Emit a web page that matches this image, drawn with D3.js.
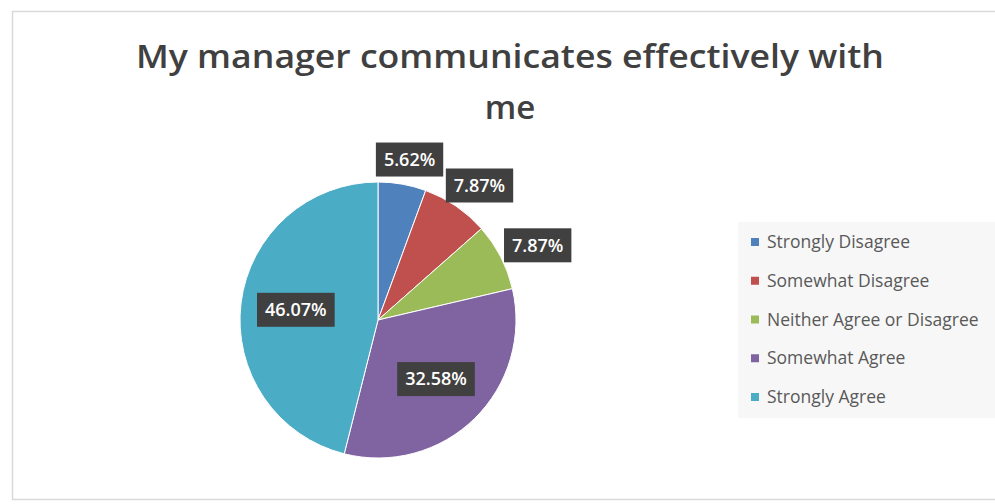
<!DOCTYPE html>
<html>
<head>
<meta charset="utf-8">
<script src="https://cdn.jsdelivr.net/npm/d3@7"></script>
<style>
  body { margin: 0; background: #fff; }
  svg { display: block; font-family: "Open Sans", "DejaVu Sans", sans-serif; }
</style>
</head>
<body>
<script>
// data
const categories = ["Strongly Disagree", "Somewhat Disagree", "Neither Agree or Disagree", "Somewhat Agree", "Strongly Agree"];
const values = [5.62, 7.87, 7.87, 32.58, 46.07];
const colors = ["#4f81bd", "#c0504d", "#9bbb59", "#8064a2", "#4bacc6"];
const titleLines = ["My manager communicates effectively with", "me"];

const W = 995, H = 504;
const svg = d3.select("body").append("svg")
    .attr("width", W)
    .attr("height", H);

// chart frame
svg.append("rect")
    .attr("x", 12.5).attr("y", 11.5)
    .attr("width", W + 10).attr("height", 488)
    .attr("fill", "#fff")
    .attr("stroke", "#d9d9d9")
    .attr("stroke-width", 1.5);

// title
const title = svg.append("g").selectAll("text")
    .data(titleLines)
    .join("text")
    .attr("x", 510)
    .attr("y", (d, i) => 68 + i * 51)
    .attr("text-anchor", "middle")
    .attr("fill", "#404040")
    .attr("font-size", 33)
    .attr("font-weight", 600)
    .text(d => d);
// first line stretched to the width seen in the picture
title.filter((d, i) => i === 0)
    .attr("textLength", 748)
    .attr("lengthAdjust", "spacingAndGlyphs");

// pie
const cx = 378, cy = 320, r = 138;
const pie = d3.pie().sort(null).value(d => d);
const arcs = pie(values);
const arc = d3.arc().innerRadius(0).outerRadius(r);

const g = svg.append("g").attr("transform", `translate(${cx},${cy})`);

g.selectAll("path")
    .data(arcs)
    .join("path")
    .attr("d", arc)
    .attr("fill", (d, i) => colors[i])
    .attr("stroke", "#fff")
    .attr("stroke-width", 1);

// data labels: big slices inside, small ones outside
const labels = g.append("g").selectAll("g")
    .data(arcs)
    .join("g");

labels.each(function(d) {
    const lg = d3.select(this);
    const a = (d.startAngle + d.endAngle) / 2;
    const inside = d.value > 20;
    const txt = lg.append("text")
        .attr("text-anchor", "middle")
        .attr("dy", "0.35em")
        .attr("fill", "#fff")
        .attr("font-size", 18)
        .attr("font-weight", 600)
        .text(d3.format(".2f")(d.value) + "%");
    const tw = txt.node().getComputedTextLength();
    const bw = tw + 16, bh = 34;
    let x, y;
    if (inside) {
        x = Math.sin(a) * r * 0.6;
        y = -Math.cos(a) * r * 0.6;
    } else {
        const rr = r + 8;
        x = Math.sin(a) * rr + Math.sin(a) * bw / 2;
        y = -Math.cos(a) * rr - Math.cos(a) * bh / 2;
    }
    lg.insert("rect", "text")
        .attr("x", x - bw / 2).attr("y", y - bh / 2)
        .attr("width", bw).attr("height", bh)
        .attr("fill", "#404040");
    txt.attr("x", x).attr("y", y);
});

// legend
const legend = svg.append("g");
legend.append("rect")
    .attr("x", 738).attr("y", 222)
    .attr("width", W - 738).attr("height", 196)
    .attr("fill", "#f7f7f7");

const ly = d3.scalePoint().domain(categories).range([242, 397]);

const items = legend.selectAll("g.item")
    .data(categories)
    .join("g")
    .attr("class", "item")
    .attr("transform", d => `translate(751,${ly(d)})`);

items.append("rect")
    .attr("x", 0).attr("y", -4)
    .attr("width", 8).attr("height", 8)
    .attr("fill", (d, i) => colors[i]);

items.append("text")
    .attr("x", 16)
    .attr("dy", "0.35em")
    .attr("fill", "#595959")
    .attr("font-size", 17.5)
    .text(d => d);
</script>
</body>
</html>
